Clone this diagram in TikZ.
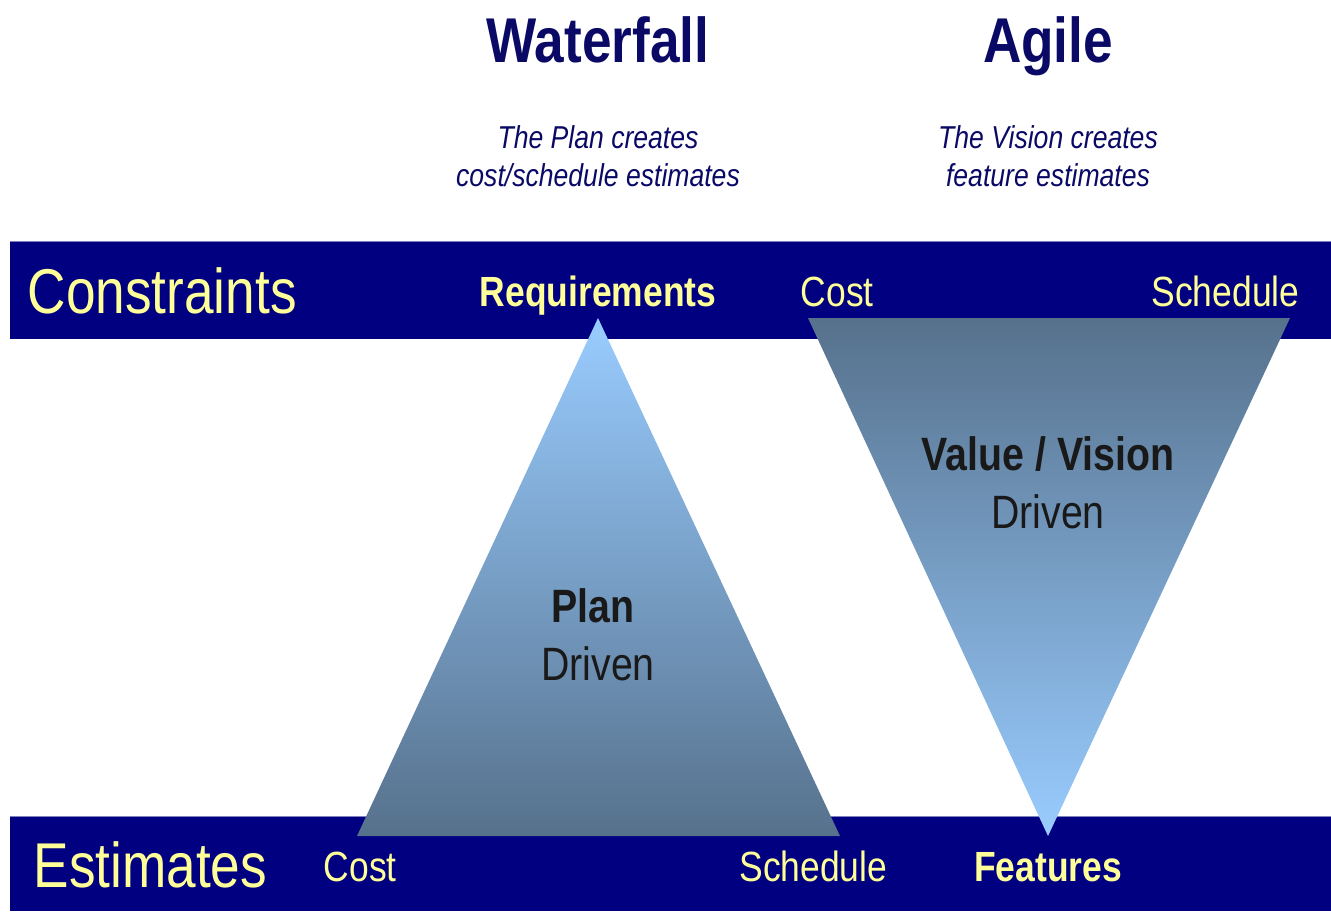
\documentclass[tikz,border=0pt]{standalone}
\usepackage{fontspec}
\setmainfont{Liberation Sans}
\usepackage{graphicx}
\definecolor{bandblue}{HTML}{000080}
\definecolor{labelyellow}{HTML}{FFFF99}
\definecolor{titleblue}{HTML}{0A0A66}
\definecolor{lightsky}{HTML}{99CCFF}
\definecolor{slate}{HTML}{56718C}
\newcommand{\narrow}[1]{\scalebox{0.84}[1]{#1}}
\tikzset{
	title/.style={anchor=base, text=titleblue, font=\fontsize{18}{20}\selectfont\bfseries},
	subtitle/.style={anchor=base, text=titleblue, font=\fontsize{9}{11}\selectfont\itshape},
	bandlabel/.style={anchor=base west, text=labelyellow, font=\fontsize{18}{20}\selectfont},
	tag/.style={anchor=base, text=labelyellow, font=\fontsize{12}{14}\selectfont},
	inner/.style={anchor=base, text=black!90, font=\fontsize{13.3}{15}\selectfont}
}

\begin{document}
\begin{tikzpicture}[x=0.01cm, y=-0.01cm]
\useasboundingbox (0,0) rectangle (1331,911);
% bands
\fill[bandblue](10,241) rectangle (1331,339);
\fill[bandblue](10,816) rectangle (1331,911);
\draw[bandblue!50, line width=0.1mm](10,241)--(1331,241);
\draw[bandblue!50, line width=0.1mm](10,816)--(1331,816);
% triangles
\shade[top color=lightsky, bottom color=slate](598,318)--(840,836)--(357,836)--cycle;
\shade[top color=slate, bottom color=lightsky](808,318)--(1290,318)--(1048,836)--cycle;
% headings
\node[title] (waterfall) at (598,62) {\narrow{Waterfall}};
\node[title] (agile) at (1048,62) {\narrow{Agile}};
\node[subtitle] (plansub1) at (598,148) {\narrow{The Plan creates}};
\node[subtitle] (plansub2) at (598,186) {\narrow{cost/schedule estimates}};
\node[subtitle] (visionsub1) at (1048,148) {\narrow{The Vision creates}};
\node[subtitle] (visionsub2) at (1048,186) {\narrow{feature estimates}};
% band labels
\node[bandlabel, inner sep=0pt] (constraints) at (27,313) {\narrow{Constraints}};
\node[bandlabel, inner sep=0pt] (estimates) at (33,887) {\narrow{Estimates}};
\node[tag, font=\fontsize{12}{14}\selectfont\bfseries] (requirements) at (598,306) {\narrow{Requirements}};
\node[tag, anchor=base west, inner sep=0pt] (topcost) at (800,306) {\narrow{Cost}};
\node[tag, anchor=base east, inner sep=0pt] (topschedule) at (1300,306) {\narrow{Schedule}};
\node[tag, anchor=base west, inner sep=0pt] (lowcost) at (323,881) {\narrow{Cost}};
\node[tag, anchor=base east, inner sep=0pt] (lowschedule) at (888,881) {\narrow{Schedule}};
\node[tag, font=\fontsize{12}{14}\selectfont\bfseries] (features) at (1048,881) {\narrow{Features}};
% triangle texts
\node[inner, font=\fontsize{13.3}{15}\selectfont\bfseries] (plan) at (593,622) {\narrow{Plan}};
\node[inner] (plandriven) at (598,680) {\narrow{Driven}};
\node[inner, font=\fontsize{13.3}{15}\selectfont\bfseries] (value) at (1048,470) {\narrow{Value / Vision}};
\node[inner] (valuedriven) at (1048,528) {\narrow{Driven}};
\end{tikzpicture}
\end{document}
